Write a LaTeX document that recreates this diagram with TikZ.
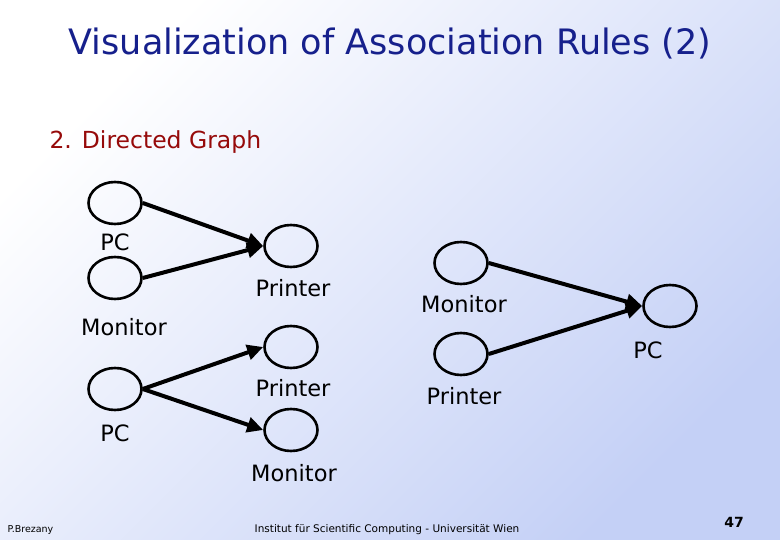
\documentclass[tikz,border=0pt]{standalone}
\usepackage{fontspec}
\setmainfont{DejaVu Sans}
\usetikzlibrary{shapes.geometric,arrows.meta}
\definecolor{titleblue}{RGB}{22,32,140}
\definecolor{subred}{RGB}{150,10,10}
\definecolor{bgblue}{RGB}{196,208,246}
\begin{document}
\begin{tikzpicture}[x=1pt, y=-1pt,
		item/.style = {draw, ellipse, line width = 2.6, minimum width = 53, minimum height = 42, inner sep = 0},
		lbl/.style = {font = \fontsize{22.5}{22.5}\selectfont},
		rule/.style = {line width = 4, -{Triangle[length = 16, width = 15]}}]
	\shade[top color = white, bottom color = bgblue, shading angle = 45] (0,0) rectangle (780,540); % background
	\useasboundingbox (0,0) rectangle (780,540);
	
	\node[text = titleblue, font = \fontsize{35}{35}\selectfont] (title) at (390,44) {Visualization of Association Rules (2)};
	\node[text = subred, font = \fontsize{23.5}{23.5}\selectfont, anchor = west] (sub) at (46,142) {2. Directed Graph};
	
	% PC, Monitor -> Printer
	\node[item] (pcA) at (115,203) {};
	\node[item] (monA) at (115,278) {};
	\node[item] (prA) at (291,246) {};
	\node[lbl] (pcAl) at (115,242) {PC};
	\node[lbl] (monAl) at (124,327) {Monitor};
	\node[lbl] (prAl) at (293,288) {Printer};
	\draw[rule] (pcA.east) -- (prA.west);
	\draw[rule] (monA.east) -- (prA.west);
	
	% PC -> Printer, Monitor
	\node[item] (pcB) at (115,389) {};
	\node[item] (prB) at (291,347) {};
	\node[item] (monB) at (291,430) {};
	\node[lbl] (pcBl) at (115,433) {PC};
	\node[lbl] (prBl) at (293,388) {Printer};
	\node[lbl] (monBl) at (294,473) {Monitor};
	\draw[rule] (pcB.east) -- (prB.west);
	\draw[rule] (pcB.east) -- (monB.west);
	
	% Monitor, Printer -> PC
	\node[item] (monC) at (461,263) {};
	\node[item] (prC) at (461,354) {};
	\node[item] (pcC) at (670,306) {};
	\node[lbl] (monCl) at (464,304) {Monitor};
	\node[lbl] (prCl) at (464,396) {Printer};
	\node[lbl] (pcCl) at (648,350) {PC};
	\draw[rule] (monC.east) -- (pcC.west);
	\draw[rule] (prC.east) -- (pcC.west);
	
	% footer
	\node[font = \fontsize{9.5}{9.5}\selectfont, anchor = west] (auth) at (4,530) {P.Brezany};
	\node[font = \fontsize{10.5}{10.5}\selectfont] (inst) at (387,530) {Institut für Scientific Computing - Universität Wien};
	\node[font = \bfseries\fontsize{14}{14}\selectfont] (page) at (734,522) {47};
\end{tikzpicture}
\end{document}
